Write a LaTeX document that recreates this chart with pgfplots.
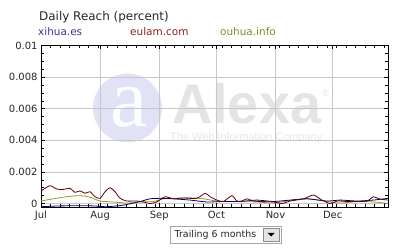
\documentclass[border=0pt]{standalone}
\usepackage{pgfplots}
\pgfplotsset{compat=1.18}
\usepackage{fontspec}
\setmainfont{DejaVu Sans}
\newfontfamily\wmserif{Liberation Serif}
\newfontfamily\wmsans{Liberation Sans}

\definecolor{xihuaLine}{RGB}{0,0,110}
\definecolor{xihuaText}{RGB}{51,51,160}
\definecolor{eulamLine}{RGB}{100,0,0}
\definecolor{eulamText}{RGB}{140,30,30}
\definecolor{ouhuaLine}{RGB}{150,150,50}
\definecolor{ouhuaText}{RGB}{136,136,34}
\definecolor{gridgray}{RGB}{200,200,200}
\definecolor{wmcircle}{RGB}{226,226,246}
\definecolor{wmtext}{RGB}{228,228,228}

\begin{document}
\begin{tikzpicture}[x=1bp,y=1bp]
  \useasboundingbox (0,0) rectangle (397,249);

  % watermark behind the grid
  \fill[wmcircle] (127.5,141) circle (34.5);
  \node[text=white!92!wmcircle, font=\wmserif\fontsize{84}{84}\selectfont, inner sep=0] at (129.5,141.5) {a};
  \node[anchor=base west, text=wmtext, font=\wmsans\bfseries\fontsize{56}{56}\selectfont, inner sep=0] at (172,126) {Alexa};
  \node[anchor=base west, text=wmtext!90, font=\wmsans\fontsize{11}{11}\selectfont, inner sep=0] at (170,108.5) {The Web Information Company};
  \node[text=wmtext, font=\wmsans\fontsize{9}{9}\selectfont, inner sep=0] at (326,156) {®};

  % title and legend
  \node[anchor=base west, inner sep=0, text=black!85, font=\fontsize{12}{14}\selectfont] at (39,229) {Daily Reach (percent)};
  \node[anchor=base west, inner sep=0, text=xihuaText, font=\fontsize{10.5}{12}\selectfont] at (38,214) {xihua.es};
  \node[anchor=base west, inner sep=0, text=eulamText, font=\fontsize{10.5}{12}\selectfont] at (130,214) {eulam.com};
  \node[anchor=base west, inner sep=0, text=ouhuaText, font=\fontsize{10.5}{12}\selectfont] at (220,214) {ouhua.info};

  \begin{axis}[
      at={(41bp,41.5bp)}, anchor=south west,
      scale only axis, width=347bp, height=162bp,
      xmin=0, xmax=182,
      ymin=-0.00025, ymax=0.01,
      scaled y ticks=false,
      xtick={0,31,62,92,123,153},
      xticklabels={Jul,Aug,Sep,Oct,Nov,Dec},
      minor xtick={5,10,...,180},
      ytick={0,0.002,0.004,0.006,0.008,0.01},
      yticklabels={0,0.002,0.004,0.006,0.008,0.01},
      minor ytick={0.0005,0.001,...,0.0096},
      tick align=inside,
      major tick length=4bp, minor tick length=3bp,
      tick style={black, line width=0.6bp},
      axis line style={black, line width=0.8bp},
      grid=major,
      grid style={gridgray, line width=0.8bp},
      minor grid style={draw=none},
      tick label style={font=\fontsize{10}{12}\selectfont, text=black!85},
      /pgf/number format/assume math mode=true,
      clip=true,
      every axis plot/.append style={line width=0.8bp, no markers},
    ]
    % ouhua.info
    \addplot[ouhuaLine, smooth, tension=0.5] coordinates {
      (0,0.00016) (6.5,0.0003) (13.5,0.00043) (20.5,0.0005) (25.7,0.0004)
      (31,0.00016) (38,0.0001) (45,0.00003) (52,0.0001) (59,0.00013)
      (64.2,0.0003) (69.4,0.00033) (78.2,0.00036) (85.2,0.0003) (92.2,0.00016)
      (100.9,0.00013) (113.2,0.0001) (121.9,0.00003) (129,0.00016) (139.5,0.0003)
      (148.2,0.00016) (157,0.00003) (165.7,0.00013) (174.4,0.0001) (182,0.0)
    };
    % xihua.es
    \addplot[xihuaLine, smooth, tension=0.4] coordinates {
      (0,-0.0002) (10,-0.00015) (20.5,-0.00014) (27.5,-0.00015) (34.5,-0.0002)
      (43.2,-0.0001) (52,0.00013) (57.2,0.0003) (62.5,0.00033) (69.4,0.0003)
      (78.2,0.00022) (87,0.0001) (95.7,0.00013) (104.5,0.00013) (113.2,0.00022)
      (121.9,0.00013) (130.7,0.00022) (139.5,0.0003) (150,0.00016) (157,0.00022)
      (165.7,0.00016) (174.4,0.00022) (182,0.00033)
    };
    % eulam.com
    \addplot[eulamLine, smooth, tension=0.4] coordinates {
      (0,0.00079) (4.7,0.00113) (8.2,0.00092) (11.5,0.00089) (15.2,0.00096)
      (17.8,0.00071) (20.5,0.0008) (23.1,0.00065) (25.7,0.00075) (28.3,0.00043)
      (31,0.00033) (33.6,0.00075) (36.2,0.001) (38.8,0.00075) (41.5,0.00033)
      (45,0.00016) (50.2,0.00016) (53.7,0.0001) (57.2,0.0) (60.7,0.0001)
      (65.1,0.00043) (69.4,0.0003) (74.7,0.00035) (81.7,0.00033) (86.1,0.00065)
      (88.7,0.00043) (92.2,0.00022) (95.7,0.00013) (100.1,0.0005) (102.7,0.00016)
      (105.4,0.00016) (108,0.0003) (111.4,0.00016) (115,0.00013) (121.9,0.0001)
      (126.4,0.0) (130.7,0.00016) (137.7,0.0003) (142.9,0.00054) (147.3,0.00022)
      (151.7,0.0) (155.2,0.00016) (160.5,0.00013) (165.7,0.00013) (171,0.00016)
      (174.4,0.00043) (177.1,0.0003) (182,0.00022)
    };
  \end{axis}

  % period selector
  \draw[black!35, fill=white, line width=0.8bp] (170,6) rectangle (281,23);
  \node[anchor=west, inner sep=0, text=black!85, font=\fontsize{9.5}{11}\selectfont] at (174.5,14.5) {Trailing 6 months};
  \draw[black!45, fill=black!10, line width=0.8bp] (263,8) rectangle (279,21);
  \fill[black] (267.5,16) -- (274.5,16) -- (271,12.5) -- cycle;
\end{tikzpicture}
\end{document}
